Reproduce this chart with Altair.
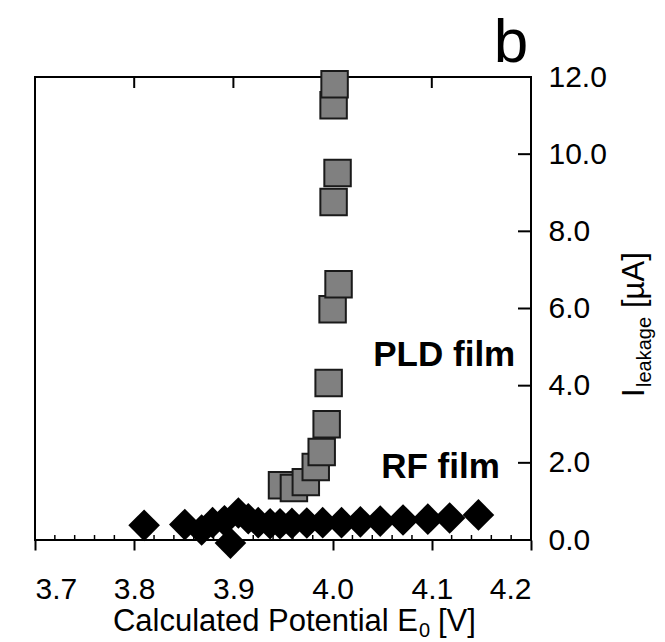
import altair as alt
import pandas as pd

# ---- data ----
pld_x = [3.949, 3.961, 3.973, 3.983, 3.989, 3.994, 3.996, 4.000, 4.006, 4.001, 4.005, 4.001, 4.002]
pld_y = [1.42, 1.35, 1.50, 1.89, 2.28, 3.00, 4.07, 5.98, 6.63, 8.76, 9.51, 11.27, 11.81]

rf_x = [3.810, 3.851, 3.868, 3.879, 3.891, 3.897, 3.905, 3.915, 3.925, 3.937, 3.947,
        3.959, 3.974, 3.990, 4.009, 4.028, 4.048, 4.071, 4.096, 4.118, 4.147]
rf_y = [0.38, 0.40, 0.26, 0.45, 0.50, -0.08, 0.70, 0.55, 0.45, 0.42, 0.42,
        0.43, 0.44, 0.45, 0.45, 0.47, 0.49, 0.52, 0.54, 0.57, 0.65]

x_ticks = [3.7, 3.8, 3.9, 4.0, 4.1, 4.2]
x_minor = [3.72, 3.74, 3.76, 3.78, 3.82, 3.84, 3.86, 3.88, 3.92, 3.94, 3.96, 3.98,
           4.02, 4.04, 4.06, 4.08, 4.12, 4.14, 4.16, 4.18]
y_ticks = [0, 2, 4, 6, 8, 10, 12]

ann_text = ["PLD film", "RF film"]
ann_x = [4.041, 4.049]
ann_y = [4.80, 1.88]

x_title = ["Calculated Potential E", "0", "[V]"]
y_title = ["I", "leakage", "[\u00b5A]"]
panel = "b"

W, H = 496, 463
FONT = "Liberation Sans"

xs = alt.Scale(domain=[3.7, 4.2], nice=False, zero=False)
ys = alt.Scale(domain=[0, 12], nice=False, zero=False)

pld = pd.DataFrame({"x": pld_x, "y": pld_y})
rf = pd.DataFrame({"x": rf_x, "y": rf_y})
ann = pd.DataFrame({"x": ann_x, "y": ann_y, "t": ann_text})
xt = pd.DataFrame({"x": x_ticks})
xm = pd.DataFrame({"x": x_minor})
yt = pd.DataFrame({"y": y_ticks})
one = pd.DataFrame({"k": [0]})

xaxis = alt.Axis(values=x_ticks, format=".1f", tickSize=10, tickWidth=2, tickColor="black",
                 labelFontSize=30, labelFont=FONT, labelColor="black", labelPadding=24,
                 domain=False, grid=False, title=None)
yaxis = alt.Axis(orient="right", values=y_ticks, format=".1f", ticks=False,
                 labelFontSize=30, labelFont=FONT, labelColor="black", labelPadding=17,
                 domain=False, grid=False, title=None)

rf_layer = alt.Chart(rf).mark_point(shape="diamond", size=1000, filled=True, color="black",
                                    opacity=1, clip=False).encode(
    x=alt.X("x:Q", scale=xs, axis=xaxis),
    y=alt.Y("y:Q", scale=ys, axis=yaxis),
)

pld_layer = alt.Chart(pld).mark_point(shape="square", size=700, filled=True, fill="#808080",
                                      stroke="#1a1a1a", strokeWidth=2, opacity=1).encode(
    x=alt.X("x:Q", scale=xs), y=alt.Y("y:Q", scale=ys)
)

ann_layer = alt.Chart(ann).mark_text(align="left", baseline="middle", fontSize=35,
                                     fontWeight="bold", font=FONT, color="black").encode(
    x=alt.X("x:Q", scale=xs), y=alt.Y("y:Q", scale=ys), text="t:N"
)

minor_layer = alt.Chart(xm).mark_rule(color="black", strokeWidth=1.5).encode(
    x=alt.X("x:Q", scale=xs), y=alt.value(H), y2=alt.value(H - 5)
)
top_layer = alt.Chart(xt).mark_rule(color="black", strokeWidth=2).encode(
    x=alt.X("x:Q", scale=xs), y=alt.value(0), y2=alt.value(11)
)
right_layer = alt.Chart(yt).mark_rule(color="black", strokeWidth=2).encode(
    y=alt.Y("y:Q", scale=ys), x=alt.value(W - 13), x2=alt.value(W)
)

def txt(s, x, y, size, **kw):
    return alt.Chart(one).mark_text(fontSize=size, font=FONT, color="black", **kw).encode(
        x=alt.value(x), y=alt.value(y), text=alt.value(s))

# x-axis title pieces (E with subscript 0)
xt1 = txt(x_title[0], 383, 554, 31, align="right", baseline="alphabetic")
xt2 = txt(x_title[1], 384, 560, 20, align="left", baseline="alphabetic")
xt3 = txt(x_title[2], 403, 554, 31, align="left", baseline="alphabetic")

# right-hand y title pieces, reading upward
yt1 = txt(y_title[0], 609, 320, 31, align="left", baseline="alphabetic", angle=270)
yt2 = txt(y_title[1], 616, 310, 20, align="left", baseline="alphabetic", angle=270)
yt3 = txt(y_title[2], 609, 231, 31, align="left", baseline="alphabetic", angle=270)

b_lab = txt(panel, 476, -15, 62, align="center", baseline="alphabetic")

chart = alt.layer(
    minor_layer, top_layer, right_layer, rf_layer, pld_layer, ann_layer,
    xt1, xt2, xt3, yt1, yt2, yt3, b_lab
).properties(
    width=W, height=H,
    padding={"left": 35, "top": 77, "right": 134, "bottom": 102},
    autosize=alt.AutoSizeParams(type="none"),
    background="white",
).configure_view(stroke="black", strokeWidth=2)

chart.save("out.html", embed_options={"renderer": "svg", "actions": False})
